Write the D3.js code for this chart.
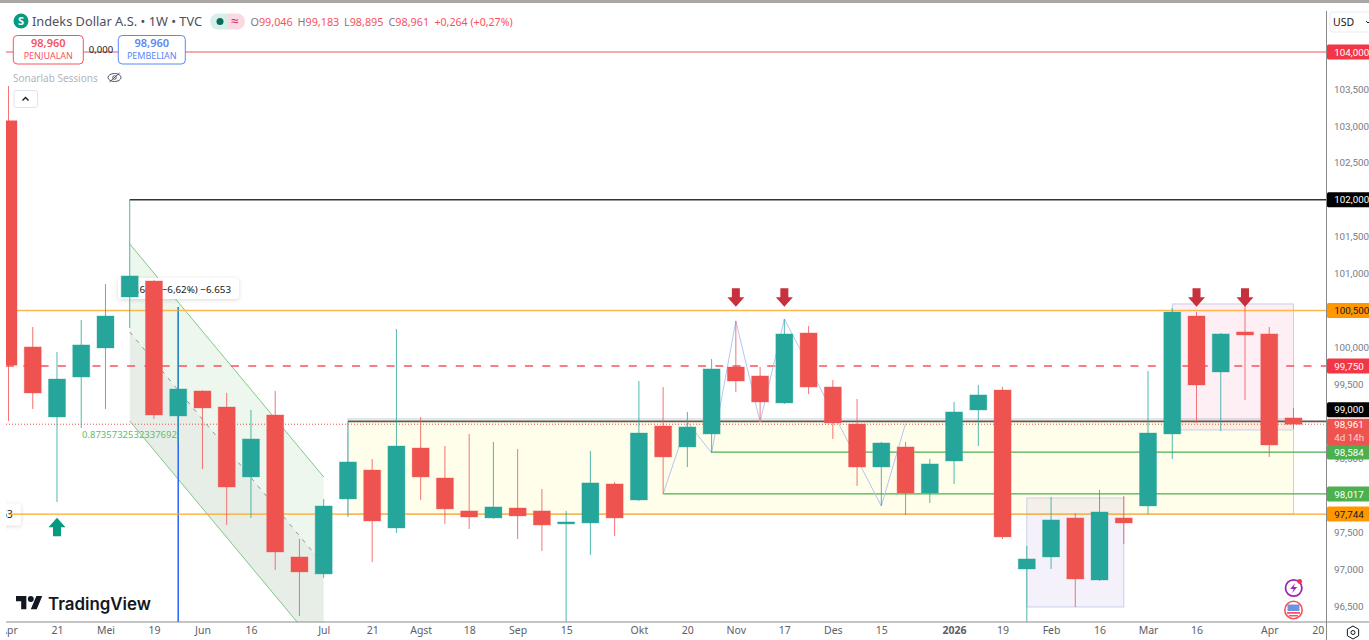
<!DOCTYPE html>
<html>
<head>
<meta charset="utf-8">
<title>Indeks Dollar A.S.</title>
<script src="https://cdn.jsdelivr.net/npm/d3@7/dist/d3.min.js"></script>
<style>
    html, body { margin: 0; padding: 0; background: #fff; overflow: hidden; }
    svg { display: block; font-family: "Noto Sans", "Open Sans", sans-serif; }
    .axis text { font-family: "Noto Sans", "Open Sans", sans-serif; }
    .price-text, .price-text text { font-family: Roboto, "Noto Sans", sans-serif; }
</style>
</head>
<body>
<div id="chart"></div>
<script>
// weekly candles, index 0 = first visible week (Apr 2025)
const opens = [103.07, 100.007, 99.059, 99.6, 99.993, 100.683, 100.9, 99.073, 99.411, 99.194, 98.247, 99.086, 97.164, 96.934,
    97.949, 98.341, 97.556, 98.639, 98.233, 97.787, 97.692, 97.827, 97.787, 97.612, 97.624, 98.152, 97.935, 98.937,
    98.653, 98.829, 99.736, 99.614, 99.249, 100.196, 99.465, 98.964, 98.382, 98.653, 98.03, 98.463, 99.154,
    99.424, 97.001, 97.164, 97.692, 96.852, 97.692, 97.854, 98.829, 100.426, 99.668, 100.21, 100.183, 99.046];
const highs = [103.54, 100.277, 99.939, 100.372, 100.859, 102, 100.91, 100.548, 99.42, 99.384, 99.154, 99.411, 97.407, 97.949,
    98.991, 98.49, 100.25, 99.059, 98.666, 98.829, 98.721, 98.626, 98.084, 97.787, 98.599, 98.18, 99.546, 99.465,
    99.127, 99.844, 100.359, 99.736, 100.386, 100.291, 99.56, 99.303, 98.721, 98.721, 98.49, 99.262, 99.492,
    99.465, 97.313, 97.976, 97.759, 98.071, 97.99, 99.682, 100.535, 100.48, 100.196, 100.562, 100.277, 99.183];
const lows = [99.005, 99.167, 97.908, 98.91, 99.167, 100.264, 99.032, 98.707, 98.355, 97.597, 97.692, 96.988, 96.365, 96.88,
    97.705, 97.096, 97.489, 97.935, 97.611, 97.543, 97.68, 97.407, 97.245, 96.284, 97.191, 97.448, 97.92, 98.017,
    98.382, 98.572, 99.397, 98.991, 99.235, 99.37, 98.761, 98.125, 97.854, 97.732, 97.895, 98.152, 98.666,
    97.407, 96.284, 97.001, 96.487, 96.84, 97.34, 97.746, 98.49, 98.978, 98.869, 99.289, 98.518, 98.895];
const closes = [99.76, 99.384, 99.573, 100.034, 100.426, 100.968, 99.086, 99.438, 99.181, 98.111, 98.761, 97.231, 96.961, 97.854,
    98.45, 97.651, 98.666, 98.247, 97.814, 97.705, 97.841, 97.719, 97.597, 97.638, 98.166, 97.692, 98.842, 98.518,
    98.924, 99.709, 99.546, 99.262, 100.183, 99.465, 98.978, 98.382, 98.707, 98.03, 98.423, 99.127, 99.357,
    97.435, 97.137, 97.665, 96.866, 97.773, 97.624, 98.842, 100.48, 99.492, 100.183, 100.169, 98.68, 98.961];

const priceTicks = [103.5, 103, 102.5, 101.5, 101, 100, 99.5, 98.5, 97.5, 97, 96.5];
const timeTickIndex = [0, 2, 4, 6, 8, 10, 13, 15, 17, 19, 21, 23, 26, 28, 30, 32, 34, 36, 39, 41, 43, 45, 47, 49, 52, 54];
const timeTickLabels = ["Apr", "21", "Mei", "19", "Jun", "16", "Jul", "21", "Agst", "18", "Sep", "15", "Okt", "20", "Nov", "17",
    "Des", "15", "2026", "19", "Feb", "16", "Mar", "16", "Apr", "20"];

// horizontal levels drawn on the chart
const levelPrices = [104, 102, 100.5, 99.75, 99, 98.584, 98.017, 97.744];
const levelStarts = [-1, 5, -1, -1, 14, 29, 27, 0];

// drawn rectangles: first/last week, top/bottom price
const boxStarts = [14, 48, 42];
const boxEnds = [53, 53, 46];
const boxTops = [99.032, 100.589, 97.962];
const boxBottoms = [97.744, 98.883, 96.487];

// falling channel
const channelWeeks = [5, 13];
const channelUpper = [101.401, 98.247];
const channelMiddle = [100.21, 97.056];
const channelLower = [99.005, 95.851];

// zigzag drawing over autumn
const zigzagWeeks = [27, 28, 29, 30, 31, 32, 36, 37];
const zigzagPrices = [98.017, 98.991, 98.572, 100.359, 98.991, 100.386, 97.854, 98.97];

// signal arrows
const sellArrowWeeks = [30, 32, 49, 51];
const sellArrowPrice = 100.552;
const buyArrowWeek = 2;
const buyArrowPrice = 97.696;

const lastPrice = 98.961;

class DollarIndexChart {
    constructor(_config, _data) {
        this.config = {
            parentElement: _config.parentElement,
            containerWidth: _config.containerWidth || 1369,
            containerHeight: _config.containerHeight || 640,
            plotLeft: 6,
            plotTop: 3,
            plotRight: 1326.5,
            plotBottom: 622,
            bodyWidth: 17,
            up: "#26a69a",
            down: "#ef5350",
            grey: "#787b86",
        };
        this.data = _data;
        this.initVis();
    }

    initVis() {
        let vis = this;
        const c = vis.config;
        vis.svg = d3.select(c.parentElement)
            .append("svg")
            .attr("width", c.containerWidth)
            .attr("height", c.containerHeight);

        vis.svg.append("clipPath").attr("id", "plot-clip").append("rect")
            .attr("x", c.plotLeft)
            .attr("y", c.plotTop)
            .attr("width", c.plotRight - c.plotLeft)
            .attr("height", c.plotBottom - c.plotTop);

        vis.xScale = d3.scaleLinear().domain([0, 53]).range([8.5, 1293.5]);
        vis.yScale = d3.scaleLinear().domain([104, 96.5]).range([52, 606]);
        vis.priceFormat = d3.formatLocale({ decimal: ",", thousands: ".", grouping: [3] }).format(".3f");

        vis.plot = vis.svg.append("g").attr("clip-path", "url(#plot-clip)");
        vis.renderDrawings();
        vis.renderCandles();
        vis.renderAxes();
        vis.renderHeader();
        vis.renderWatermark();
    }

    renderDrawings() {
        let vis = this;
        const x = vis.xScale, y = vis.yScale;
        const boxFills = ["rgba(255,251,200,0.36)", "rgba(233,30,99,0.07)", "rgba(103,58,183,0.07)"];

        vis.plot.selectAll(".box").data(boxStarts)
            .join("rect")
            .attr("class", "box")
            .attr("x", (d) => x(d))
            .attr("y", (d, i) => y(boxTops[i]))
            .attr("width", (d, i) => x(boxEnds[i]) - x(d))
            .attr("height", (d, i) => y(boxBottoms[i]) - y(boxTops[i]))
            .attr("fill", (d, i) => boxFills[i])
            .attr("stroke", "#c9cfea")
            .attr("stroke-width", 1);

        // channel, upper half lighter than lower half
        const pts = (top, bottom) => [
            [x(channelWeeks[0]), y(top[0])], [x(channelWeeks[1]), y(top[1])],
            [x(channelWeeks[1]), y(bottom[1])], [x(channelWeeks[0]), y(bottom[0])],
        ];
        vis.plot.append("polygon").attr("points", pts(channelUpper, channelMiddle).join(" ")).attr("fill", "rgba(76,175,80,0.1)");
        vis.plot.append("polygon").attr("points", pts(channelMiddle, channelLower).join(" ")).attr("fill", "rgba(70,120,80,0.13)");
        const edge = d3.line().x((d, i) => x(channelWeeks[i])).y((d) => y(d));
        vis.plot.selectAll(".channel-edge").data([channelUpper, channelLower])
            .join("path")
            .attr("class", "channel-edge")
            .attr("d", edge)
            .attr("fill", "none")
            .attr("stroke", "#81c784")
            .attr("stroke-width", 1);
        vis.plot.append("path")
            .attr("d", edge(channelMiddle))
            .attr("fill", "none")
            .attr("stroke", "#8a9a90")
            .attr("stroke-width", 1)
            .attr("stroke-dasharray", "4 6");

        // vertical marker through the June candle
        vis.plot.append("line")
            .attr("x1", x(7)).attr("x2", x(7))
            .attr("y1", y(highs[7])).attr("y2", vis.config.plotBottom)
            .attr("stroke", "#2962ff")
            .attr("stroke-width", 1.5);

        // measure label, mostly hidden by candles
        vis.plot.append("rect")
            .attr("x", 118).attr("y", 278).attr("width", 121).attr("height", 21).attr("rx", 3)
            .attr("fill", "#fff")
            .style("filter", "drop-shadow(0 1px 2px rgba(0,0,0,0.14))");
        vis.plot.append("text")
            .attr("x", 231).attr("y", 292.5)
            .attr("text-anchor", "end")
            .attr("font-size", 9.8)
            .attr("fill", "#131722")
            .text("−6,666 (−6,62%) −6.653");
        vis.plot.append("rect")
            .attr("x", -20).attr("y", 503.5).attr("width", 41).attr("height", 22).attr("rx", 3)
            .attr("fill", "#fff")
            .style("filter", "drop-shadow(0 1px 2px rgba(0,0,0,0.14))");
        vis.plot.append("text")
            .attr("x", 12.7).attr("y", 518)
            .attr("text-anchor", "end")
            .attr("font-size", 10)
            .attr("fill", "#131722")
            .text("63");

        // levels
        const levelColors = ["#f2555f", "#333", "#ffb74d", "#f7525f", "#5d5a52", "#4caf50", "#4caf50", "#ffa726"];
        const levelWidths = [1, 1.3, 1.4, 1.4, 1.6, 1.3, 1.3, 1.4];
        vis.plot.selectAll(".level").data(levelPrices)
            .join("line")
            .attr("class", "level")
            .attr("x1", (d, i) => (levelStarts[i] < 0 ? vis.config.plotLeft : x(levelStarts[i])))
            .attr("x2", vis.config.plotRight)
            .attr("y1", (d) => y(d))
            .attr("y2", (d) => y(d))
            .attr("stroke", (d, i) => levelColors[i])
            .attr("stroke-width", (d, i) => levelWidths[i])
            .attr("stroke-dasharray", (d) => (d === 99.75 ? "8 9.3" : null));

        // last price dotted line
        vis.plot.append("line")
            .attr("x1", vis.config.plotLeft).attr("x2", vis.config.plotRight)
            .attr("y1", y(lastPrice)).attr("y2", y(lastPrice))
            .attr("stroke", "#ef5350")
            .attr("stroke-width", 1)
            .attr("stroke-dasharray", "1 2");

        vis.plot.append("path")
            .datum(zigzagPrices)
            .attr("d", d3.line().x((d, i) => x(zigzagWeeks[i])).y((d) => y(d)))
            .attr("fill", "none")
            .attr("stroke", "#b4c6f2")
            .attr("stroke-width", 1);

        vis.plot.append("text")
            .attr("x", 82).attr("y", 437.5)
            .attr("font-size", 9.5)
            .attr("fill", "#66bb6a")
            .text("0.8735732532337692");
    }

    renderCandles() {
        let vis = this;
        const c = vis.config, x = vis.xScale, y = vis.yScale;
        const color = (d, i) => (closes[i] >= d ? c.up : c.down);

        vis.plot.selectAll(".wick").data(vis.data.opens)
            .join("line")
            .attr("class", "wick")
            .attr("x1", (d, i) => x(i))
            .attr("x2", (d, i) => x(i))
            .attr("y1", (d, i) => y(highs[i]))
            .attr("y2", (d, i) => y(lows[i]))
            .attr("stroke", color)
            .attr("stroke-opacity", 0.8)
            .attr("stroke-width", 1);

        vis.plot.selectAll(".body").data(vis.data.opens)
            .join("rect")
            .attr("class", "body")
            .attr("x", (d, i) => x(i) - c.bodyWidth / 2)
            .attr("width", c.bodyWidth)
            .attr("y", (d, i) => y(Math.max(d, closes[i])))
            .attr("height", (d, i) => Math.max(2, Math.abs(y(d) - y(closes[i]))))
            .attr("fill", color)
            .attr("stroke", color)
            .attr("stroke-opacity", 0.35)
            .attr("stroke-width", 1);

        // arrows
        const arrow = (px, py, dir) => {
            const p = d3.path();
            p.moveTo(px, py);
            p.lineTo(px + 8.5, py - 9.5 * dir);
            p.lineTo(px + 4, py - 9.5 * dir);
            p.lineTo(px + 4, py - 18.5 * dir);
            p.lineTo(px - 4, py - 18.5 * dir);
            p.lineTo(px - 4, py - 9.5 * dir);
            p.lineTo(px - 8.5, py - 9.5 * dir);
            p.closePath();
            return p.toString();
        };
        vis.plot.selectAll(".sell-arrow").data(sellArrowWeeks)
            .join("path")
            .attr("class", "sell-arrow")
            .attr("d", (d) => arrow(x(d), y(sellArrowPrice), 1))
            .attr("fill", "#c9303e");
        vis.plot.append("path")
            .attr("d", arrow(x(buyArrowWeek), y(buyArrowPrice), -1))
            .attr("fill", "#089981");
    }

    renderAxes() {
        let vis = this;
        const c = vis.config, y = vis.yScale;

        vis.svg.append("clipPath").attr("id", "time-clip").append("rect")
            .attr("x", c.plotLeft).attr("y", c.plotBottom)
            .attr("width", c.plotRight - c.plotLeft).attr("height", 18);

        const timeAxis = d3.axisBottom(vis.xScale)
            .tickValues(timeTickIndex)
            .tickFormat((d, i) => timeTickLabels[i])
            .tickSize(0)
            .tickPadding(5);
        const timeG = vis.svg.append("g")
            .attr("class", "axis")
            .attr("clip-path", "url(#time-clip)")
            .append("g")
            .attr("transform", `translate(0,${c.plotBottom})`)
            .call(timeAxis);
        timeG.select(".domain").remove();
        timeG.selectAll("text")
            .attr("font-size", 10.5)
            .attr("fill", "#5d606b")
            .style("font-weight", (d) => (d === 39 ? 700 : 400));

        const priceAxis = d3.axisRight(y)
            .tickValues(priceTicks)
            .tickFormat(vis.priceFormat)
            .tickSize(0)
            .tickPadding(7.5);
        const priceG = vis.svg.append("g")
            .attr("class", "price-text")
            .attr("transform", `translate(${c.plotRight},0)`)
            .call(priceAxis);
        priceG.select(".domain").remove();
        priceG.selectAll("text").attr("font-size", 9.8).attr("fill", c.grey);

        // frame
        vis.svg.append("rect").attr("width", c.containerWidth).attr("height", c.plotTop).attr("fill", "#a9a6a3");
        vis.svg.append("line")
            .attr("x1", c.plotLeft).attr("x2", c.containerWidth)
            .attr("y1", c.plotBottom).attr("y2", c.plotBottom)
            .attr("stroke", "#8a8a8a");
        vis.svg.append("line")
            .attr("x1", c.plotRight).attr("x2", c.plotRight)
            .attr("y1", 11).attr("y2", c.containerHeight)
            .attr("stroke", "#8a8a8a");

        // coloured price labels, in paint order
        const tagPrices = [104, 102, 100.5, 99.75, 98.584, 98.017, 97.744];
        const tagFills = ["#f23645", "#000", "#ff9800", "#f23645", "#4caf50", "#4caf50", "#ff9800"];
        const tagText = ["#fff", "#fff", "#131722", "#fff", "#fff", "#fff", "#131722"];
        const tags = vis.svg.selectAll(".tag").data(tagPrices)
            .join("g")
            .attr("class", "tag price-text")
            .attr("transform", (d) => `translate(${c.plotRight + 0.5},${y(d)})`);
        tags.append("rect").attr("y", -7.5).attr("width", 46).attr("height", 15).attr("rx", 1.5)
            .attr("fill", (d, i) => tagFills[i]);
        tags.append("text").attr("x", 7.2).attr("y", 3.6).attr("font-size", 9.8)
            .attr("fill", (d, i) => tagText[i])
            .text((d) => vis.priceFormat(d));

        // 99,000 gets pushed up by the last-price tag
        const moved = vis.svg.append("g").attr("class", "price-text")
            .attr("transform", `translate(${c.plotRight + 0.5},${y(99) - 11.5})`);
        moved.append("rect").attr("y", -7.5).attr("width", 46).attr("height", 15).attr("rx", 1.5).attr("fill", "#000");
        moved.append("text").attr("x", 7.2).attr("y", 3.6).attr("font-size", 9.8).attr("fill", "#fff").text(vis.priceFormat(99));

        const last = vis.svg.append("g").attr("class", "price-text")
            .attr("transform", `translate(${c.plotRight + 0.5},${y(lastPrice)})`);
        last.append("rect").attr("y", -5.5).attr("width", 46).attr("height", 26.5).attr("rx", 1.5).attr("fill", "#ef5350");
        last.append("text").attr("x", 7.2).attr("y", 4.2).attr("font-size", 9.8).attr("fill", "#fff").text(vis.priceFormat(lastPrice));
        last.append("text").attr("x", 7.2).attr("y", 16.3).attr("font-size", 9.8).attr("fill", "#fbd0d0").text("4d 14h");

        // currency button
        vis.svg.append("rect")
            .attr("x", 1330).attr("y", 12).attr("width", 46).attr("height", 20).attr("rx", 3)
            .attr("fill", "#fff").attr("stroke", "#ececec");
        vis.svg.append("text").attr("x", 1333).attr("y", 26).attr("font-size", 10.5).attr("fill", "#131722").text("USD");
        vis.svg.append("path").attr("d", "M1366 21l2 2l2 -2").attr("fill", "none").attr("stroke", "#131722");

        // settings hexagon
        const hex = d3.range(6).map((k) => [6.5 * Math.sin(k * Math.PI / 3), 6.5 * Math.cos(k * Math.PI / 3)]);
        const gear = vis.svg.append("g").attr("transform", "translate(1353,632.5)");
        gear.append("polygon").attr("points", hex.join(" ")).attr("fill", "none").attr("stroke", "#131722");
        gear.append("circle").attr("r", 2).attr("fill", "none").attr("stroke", "#131722");
    }

    renderHeader() {
        let vis = this;
        const g = vis.svg.append("g");

        g.append("circle").attr("cx", 21).attr("cy", 21).attr("r", 7.5).attr("fill", "#089981");
        g.append("text").attr("x", 21).attr("y", 25).attr("text-anchor", "middle")
            .attr("font-size", 11).attr("font-weight", 700).attr("fill", "#fff").text("S");
        g.append("text").attr("x", 32).attr("y", 25.5).attr("font-size", 12.8).attr("fill", "#4d505b")
            .text("Indeks Dollar A.S. • 1W • TVC");

        // market status pill
        g.append("path").attr("d", "M218 13.5a8 8 0 0 0 0 16h10v-16z").attr("fill", "#d6efe9");
        g.append("path").attr("d", "M227.7 13.5h9.3a8 8 0 0 1 0 16h-9.3z").attr("fill", "#fbd9e3");
        g.append("circle").attr("cx", 220).attr("cy", 21.5).attr("r", 3.5).attr("fill", "#0b6b5c");
        g.append("text").attr("x", 235).attr("y", 26).attr("text-anchor", "middle").attr("font-size", 14).attr("fill", "#d81b60").text("≈");

        // OHLC
        const legendLetters = ["O", "H", "L", "C"];
        const legendValues = ["99,046", "99,183", "98,895", "98,961"];
        const legendX = [250.5, 297.5, 344, 388.5];
        const text = g.selectAll(".ohlc").data(legendLetters)
            .join("text")
            .attr("class", "ohlc")
            .attr("x", (d, i) => legendX[i])
            .attr("y", 25.5)
            .attr("font-size", 10.8)
            .attr("fill", "#f7525f");
        text.append("tspan").attr("fill", vis.config.grey).text((d) => d);
        text.append("tspan").text((d, i) => legendValues[i]);
        g.append("text").attr("x", 434.5).attr("y", 25.5).attr("font-size", 10.6).attr("fill", "#f7525f").text("+0,264 (+0,27%)");

        // sell / buy boxes
        const boxX = [13.3, 118.3];
        const boxW = [70, 67];
        const boxColor = ["#f7525f", "#5b86f7"];
        const boxLabel = ["PENJUALAN", "PEMBELIAN"];
        const box = g.selectAll(".trade").data(boxLabel)
            .join("g")
            .attr("class", "trade");
        box.append("rect")
            .attr("x", (d, i) => boxX[i]).attr("y", 35.5)
            .attr("width", (d, i) => boxW[i]).attr("height", 28.5).attr("rx", 4)
            .attr("fill", "#fff").attr("stroke", (d, i) => boxColor[i]);
        box.append("text")
            .attr("x", (d, i) => boxX[i] + boxW[i] / 2).attr("y", 47.3)
            .attr("text-anchor", "middle").attr("font-size", 11).attr("font-weight", 600)
            .attr("fill", (d, i) => boxColor[i]).text("98,960");
        box.append("text")
            .attr("x", (d, i) => boxX[i] + boxW[i] / 2).attr("y", 59)
            .attr("text-anchor", "middle").attr("font-size", 9)
            .attr("fill", (d, i) => boxColor[i]).text((d) => d);
        g.append("text").attr("x", 101).attr("y", 52.5).attr("text-anchor", "middle")
            .attr("font-size", 9.5).attr("fill", "#131722").text("0,000");

        g.append("text").attr("x", 13).attr("y", 81.5).attr("font-size", 10).attr("fill", "#b2b5be").text("Sonarlab Sessions");
        g.append("ellipse").attr("cx", 114.5).attr("cy", 77.5).attr("rx", 6.5).attr("ry", 4).attr("fill", "none").attr("stroke", "#555862");
        g.append("circle").attr("cx", 114.5).attr("cy", 77.5).attr("r", 1.8).attr("fill", "none").attr("stroke", "#555862");
        g.append("line").attr("x1", 109.5).attr("y1", 82).attr("x2", 119.5).attr("y2", 73).attr("stroke", "#555862");

        g.append("rect").attr("x", 14).attr("y", 90.5).attr("width", 23.5).attr("height", 17).attr("rx", 2)
            .attr("fill", "#fff").attr("stroke", "#e0e3eb");
        g.append("path").attr("d", "M22.5 100.5l3 -3l3 3").attr("fill", "none").attr("stroke", "#131722").attr("stroke-width", 1.3);
    }

    renderWatermark() {
        let vis = this;
        const logo = vis.svg.append("g").attr("transform", "translate(16,596) scale(0.74)");
        logo.append("path").attr("d", "M14 18H7V7H0V0h14v18zM28 18h-8l7.5-18h8L28 18z").attr("fill", "#131722");
        logo.append("circle").attr("cx", 20).attr("cy", 4).attr("r", 4).attr("fill", "#131722");
        vis.svg.append("text").attr("x", 48).attr("y", 609.5)
            .attr("font-size", 16.9).attr("font-weight", 600).attr("fill", "#131722")
            .attr("font-family", "Inter, Roboto, sans-serif")
            .text("TradingView");

        // event icons near the last bar
        const bolt = vis.svg.append("g").attr("transform", "translate(1293.7,588)");
        bolt.append("circle").attr("r", 8.2).attr("fill", "#fff").attr("stroke", "#9c27b0").attr("stroke-width", 1.8);
        bolt.append("path").attr("d", "M1.5 -5L-3.5 1H0L-1.5 5L3.5 -1H0z").attr("fill", "#9c27b0");
        bolt.append("circle").attr("cx", 6).attr("cy", -6.5).attr("r", 2.4).attr("fill", "#f23645");

        const flag = vis.svg.append("g").attr("transform", "translate(1293.5,610)");
        flag.append("circle").attr("r", 8.7).attr("fill", "#fff").attr("stroke", "#f7525f").attr("stroke-width", 1.6);
        flag.append("path").attr("d", "M-6.5 2h13v1.8h-13zM-4.5 5h9v1.6h-9z").attr("fill", "#f7525f");
        flag.append("path").attr("d", "M-6 -5.5h12v6.5h-12z").attr("fill", "#6f93e0");
    }
}

new DollarIndexChart({ parentElement: "#chart" }, { opens, highs, lows, closes });
</script>
</body>
</html>
